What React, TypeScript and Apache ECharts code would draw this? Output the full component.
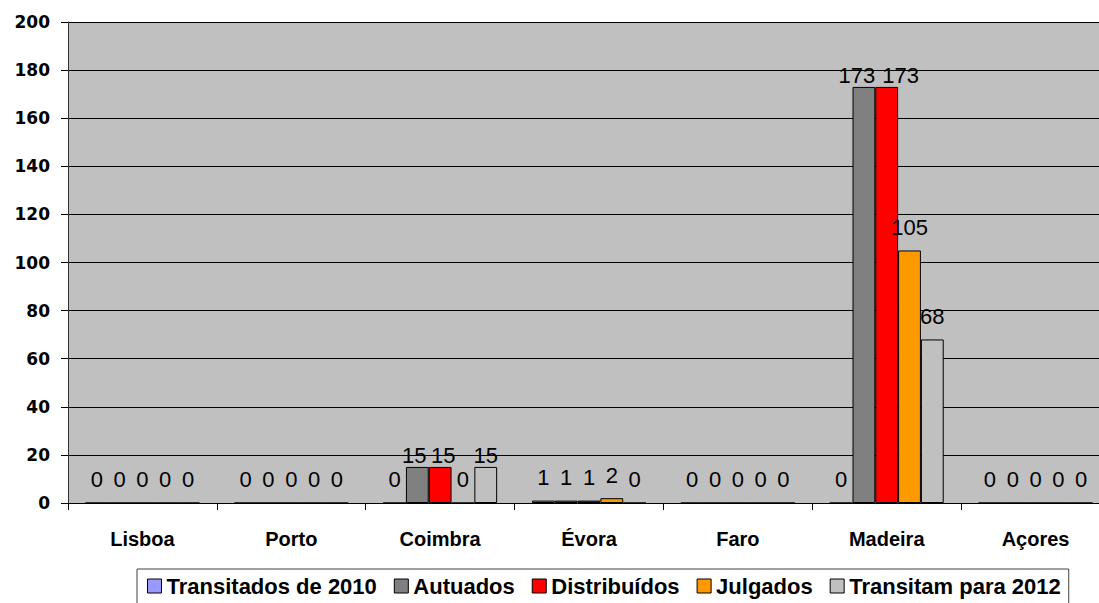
import React, { useEffect, useRef } from "react";
import * as echarts from "echarts";

const categories = ["Lisboa", "Porto", "Coimbra", "Évora", "Faro", "Madeira", "Açores"];
const seriesNames = ["Transitados de 2010", "Autuados", "Distribuídos", "Julgados", "Transitam para 2012"];
const transitados2010 = [0, 0, 0, 1, 0, 0, 0];
const autuados = [0, 0, 15, 1, 0, 173, 0];
const distribuidos = [0, 0, 15, 1, 0, 173, 0];
const julgados = [0, 0, 0, 2, 0, 105, 0];
const transitam2012 = [0, 0, 15, 0, 0, 68, 0];
const yTicks = { min: 0, max: 200, interval: 20 };

const seriesValues = [transitados2010, autuados, distribuidos, julgados, transitam2012];
const colors = ["#9999FF", "#808080", "#FF0000", "#FF9900", "#C0C0C0"];
// label tweaks (distance / horizontal offset) for a few crowded labels
const labelTweaks: Record<string, { distance: number; offset: number[] }> = {
  "Autuados|Coimbra": { distance: 0, offset: [-3, 0] },
  "Distribuídos|Coimbra": { distance: 0, offset: [3, 0] },
  "Transitam para 2012|Coimbra": { distance: 0, offset: [0, 0] },
  "Autuados|Madeira": { distance: 0, offset: [-7, 0] },
  "Distribuídos|Madeira": { distance: 0, offset: [14, 0] },
};

export default function App() {
  const ref = useRef<HTMLDivElement>(null);
  useEffect(() => {
    if (!ref.current) return;
    const chart = echarts.init(ref.current, undefined, { renderer: "svg" });
    const series = seriesNames.map((name, si) => ({
      name,
      type: "bar",
      barGap: "0%",
      barCategoryGap: "23.4%",
      itemStyle: { color: colors[si], borderColor: "#000", borderWidth: 1 },
      label: {
        show: true,
        position: "top",
        distance: 12,
        color: "#000",
        fontFamily: "Liberation Sans",
        fontSize: 22,
      },
      data: seriesValues[si].map((v, ci) => {
        const t = labelTweaks[name + "|" + categories[ci]];
        return t ? { value: v, label: { distance: t.distance, offset: t.offset } } : v;
      }),
    }));
    chart.setOption({
      animation: false,
      backgroundColor: "#fff",
      grid: {
        left: 68,
        top: 22,
        right: 0,
        bottom: 100,
        show: true,
        backgroundColor: "#C0C0C0",
        borderWidth: 0,
      },
      legend: {
        left: 137,
        top: 569,
        padding: [6, 8, 8, 10],
        itemGap: 17,
        itemWidth: 14,
        itemHeight: 14,
        borderColor: "#404040",
        borderWidth: 1,
        icon: "rect",
        textStyle: {
          fontFamily: "Liberation Sans",
          fontWeight: "bold",
          fontSize: 22,
          color: "#000",
        },
        data: seriesNames.map((n, i) => ({
          name: n,
          itemStyle: { color: colors[i], borderColor: "#000", borderWidth: 1 },
        })),
      },
      xAxis: {
        type: "category",
        data: categories,
        axisLine: { lineStyle: { color: "#000" } },
        axisTick: { show: true, length: 7, lineStyle: { color: "#000" } },
        axisLabel: {
          fontFamily: "Liberation Sans",
          fontWeight: "bold",
          fontSize: 20,
          color: "#000",
          margin: 26,
          interval: 0,
        },
      },
      yAxis: {
        type: "value",
        min: yTicks.min,
        max: yTicks.max,
        interval: yTicks.interval,
        axisLine: { show: true, lineStyle: { color: "#333" } },
        axisTick: { show: true, length: 7, lineStyle: { color: "#000" } },
        axisLabel: {
          fontFamily: "DejaVu Sans",
          fontWeight: "bold",
          fontSize: 17,
          color: "#000",
          margin: 18,
        },
        splitLine: { lineStyle: { color: "#000", width: 1 } },
      },
      series,
    });
    return () => chart.dispose();
  }, []);
  return (
    <div
      style={{
        position: "absolute",
        left: 0,
        top: 0,
        width: 1099,
        height: 603,
        overflow: "hidden",
      }}
    >
      <div ref={ref} style={{ width: 1110, height: 603 }} />
    </div>
  );
}
